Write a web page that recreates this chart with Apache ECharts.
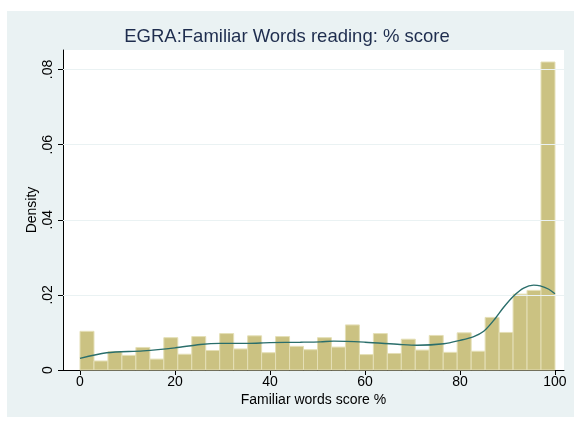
<!DOCTYPE html>
<html>
<head>
<meta charset="utf-8">
<script src="https://cdn.jsdelivr.net/npm/echarts@6/dist/echarts.min.js"></script>
<style>html,body{margin:0;padding:0;background:#fff}#c{width:574px;height:421px}</style>
</head>
<body>
<div id="c"></div>
<script>
// Histogram: 34 equal bins over 0..100, density per bin
const binRange = [0, 100];
const densities = [0.0103, 0.0024, 0.0049, 0.0039, 0.0060, 0.0029, 0.0086, 0.0042, 0.0089, 0.0052,
  0.0097, 0.0056, 0.0091, 0.0046, 0.0089, 0.0063, 0.0054, 0.0086, 0.0061, 0.0120,
  0.0041, 0.0097, 0.0044, 0.0082, 0.0053, 0.0092, 0.0047, 0.0099, 0.0050, 0.0140,
  0.0100, 0.0202, 0.0212, 0.0820];
// Kernel density curve
const kdeX = [0, 5.6, 13.3, 20, 25.3, 29.5, 35.1, 40, 46.4, 50.6, 53.4, 60, 67.4, 71, 76.6, 80, 82.9, 85, 87.1, 89.2, 91.3, 93.4, 95.5, 96.9, 98.7, 100];
const kdeY = [0.0031, 0.0046, 0.0051, 0.0059, 0.0068, 0.0071, 0.0071, 0.0073, 0.0074, 0.0075, 0.0077, 0.0074, 0.0068, 0.0066, 0.0070, 0.0079, 0.0089, 0.0103, 0.0132, 0.0167, 0.0197, 0.0218, 0.0226, 0.0224, 0.0215, 0.0203];
const xTicks = [0, 20, 40, 60, 80, 100];
const yTicks = [0, 0.02, 0.04, 0.06, 0.08];
const yTickLabels = ['0', '.02', '.04', '.06', '.08'];
const titleText = 'EGRA:Familiar Words reading: % score';
const xName = 'Familiar words score %';
const yName = 'Density';

const binW = (binRange[1] - binRange[0]) / densities.length;
const histData = densities.map((d, i) => [binRange[0] + i * binW, binRange[0] + (i + 1) * binW, d]);
const kdeData = kdeX.map((x, i) => [x, kdeY[i]]);

const chart = echarts.init(document.getElementById('c'), null, {renderer: 'canvas'});
const font = '"Liberation Sans", Arial, Helvetica, sans-serif';
chart.setOption({
  backgroundColor: '#ffffff',
  animation: false,
  graphic: [{
    type: 'rect', z: -100, silent: true,
    shape: {x: 7, y: 11, width: 567, height: 406},
    style: {fill: '#EAF2F3'}
  }],
  title: {
    text: titleText, left: 'center', top: 22,
    textStyle: {fontFamily: font, fontSize: 18.5, fontWeight: 'normal', color: '#1E2D4E'}
  },
  grid: {left: 63, right: 10, top: 50, bottom: 51, show: true, backgroundColor: '#ffffff', borderWidth: 0},
  xAxis: {
    type: 'value', min: -3.58, max: 101.9,
    name: xName, nameLocation: 'middle', nameGap: 23, nameMoveOverlap: false,
    nameTextStyle: {fontFamily: font, fontSize: 14, color: '#000'},
    axisLine: {show: true, onZero: false, lineStyle: {color: '#000', width: 1}},
    axisTick: {show: true, length: 5, customValues: xTicks, lineStyle: {color: '#000'}},
    axisLabel: {customValues: xTicks, margin: 5, fontFamily: font, fontSize: 14, color: '#000',
      showMinLabel: true, showMaxLabel: true},
    splitLine: {show: false}
  },
  yAxis: {
    type: 'value', min: 0, max: 0.0852,
    name: yName, nameLocation: 'middle', nameGap: 24, nameMoveOverlap: false,
    nameTextStyle: {fontFamily: font, fontSize: 14, color: '#000'},
    axisLine: {show: true, onZero: false, lineStyle: {color: '#000', width: 1}},
    axisTick: {show: true, length: 5, customValues: yTicks, lineStyle: {color: '#000'}},
    axisLabel: {customValues: yTicks, rotate: 90, margin: 8, fontFamily: font, fontSize: 14, color: '#000',
      formatter: v => { const i = yTicks.findIndex(t => Math.abs(t - v) < 1e-9); return i >= 0 ? yTickLabels[i] : ''; }},
    splitLine: {show: false}
  },
  series: [{
    type: 'custom',
    data: histData,
    encode: {x: [0, 1], y: 2},
    renderItem: (params, api) => {
      const p0 = api.coord([api.value(0), 0]);
      const p1 = api.coord([api.value(1), api.value(2)]);
      return {
        type: 'rect',
        shape: {x: p0[0], y: p1[1], width: p1[0] - p0[0], height: p0[1] - p1[1]},
        style: {fill: '#CBC282', stroke: '#E4DFB6', lineWidth: 1}
      };
    },
    markLine: {
      silent: true, symbol: 'none', label: {show: false},
      lineStyle: {color: '#EAF2F3', width: 1, type: 'solid'},
      data: yTicks.filter(t => t > 0).map(t => ({yAxis: t}))
    },
    z: 2
  }, {
    type: 'line',
    data: kdeData,
    showSymbol: false,
    smooth: 0.3,
    lineStyle: {color: '#2A6E6B', width: 1.4},
    z: 5
  }]
});
</script>
</body>
</html>
